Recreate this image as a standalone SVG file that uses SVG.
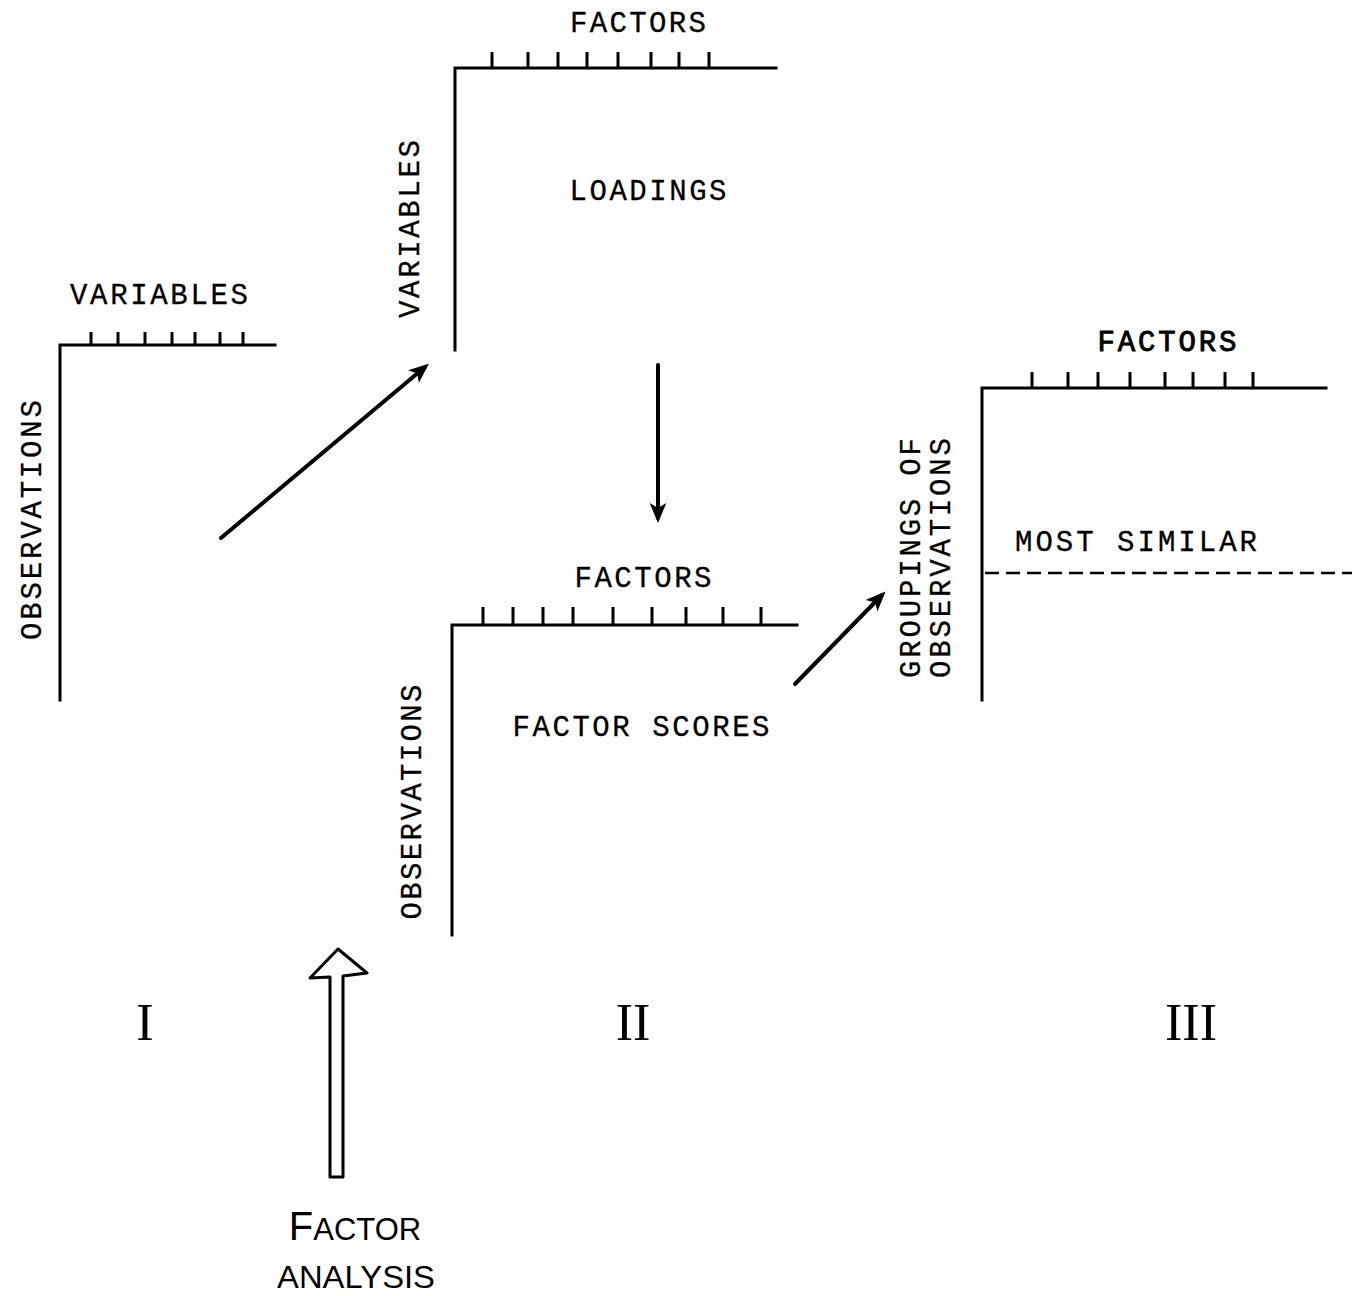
<svg xmlns="http://www.w3.org/2000/svg" width="1362" height="1296" viewBox="0 0 1362 1296">
<style>
.ax{stroke:#000;stroke-width:3;fill:none;stroke-linecap:square}
.tk{stroke:#000;stroke-width:3;fill:none}
.lb{font-family:"Liberation Mono","DejaVu Sans Mono",monospace;font-size:29px;fill:#000;text-anchor:middle;stroke:#000;stroke-width:0.3}
.rn{font-family:"Liberation Serif","DejaVu Serif",serif;font-size:52px;fill:#000;text-anchor:middle}
.fa{font-family:"Liberation Sans","DejaVu Sans",sans-serif;fill:#000;text-anchor:middle}
.ar{stroke:#000;stroke-width:4;fill:none;stroke-linecap:round}
</style>
<defs>
<marker id="ah" viewBox="0 0 12 12" refX="9" refY="6" markerWidth="5" markerHeight="5" orient="auto" markerUnits="strokeWidth">
<path d="M0,1 L12,6 L0,11 L3,6 Z" fill="#000"/>
</marker>
</defs>
<rect width="1362" height="1296" fill="#fff"/>

<g id="panel-I">
<path class="ax" d="M60,700 V345 H275"/>
<path class="tk" d="M91,332V345M118,332V345M145,332V345M172,332V345M195,332V345M220,332V345M243,332V345"/>
<text class="lb" x="159" y="304" textLength="178" lengthAdjust="spacing">VARIABLES</text>
<text class="lb" transform="translate(41,520) rotate(-90)" textLength="240" lengthAdjust="spacing">OBSERVATIONS</text>
<text class="rn" x="145" y="1040">I</text>
</g>

<g id="panel-II-loadings">
<path class="ax" d="M455,350 V68 H776"/>
<path class="tk" d="M492,52V68M528,52V68M558,52V68M587,52V68M618,52V68M651,52V68M679,52V68M709,52V68"/>
<text class="lb" x="638" y="32" textLength="136" lengthAdjust="spacing">FACTORS</text>
<text class="lb" x="648" y="200" textLength="157" lengthAdjust="spacing">LOADINGS</text>
<text class="lb" transform="translate(419,229) rotate(-90)" textLength="178" lengthAdjust="spacing">VARIABLES</text>
</g>

<g id="panel-II-scores">
<path class="ax" d="M452,935 V625 H797"/>
<path class="tk" d="M483,607V625M513,607V625M543,607V625M573,607V625M613,607V625M652,607V625M686,607V625M723,607V625M761,607V625"/>
<text class="lb" x="643" y="587" textLength="137" lengthAdjust="spacing">FACTORS</text>
<text class="lb" x="641" y="736" textLength="257" lengthAdjust="spacing">FACTOR SCORES</text>
<text class="lb" transform="translate(421,802) rotate(-90)" textLength="235" lengthAdjust="spacing">OBSERVATIONS</text>
<text class="rn" x="633" y="1040">II</text>
</g>

<g id="panel-III">
<path class="ax" d="M982,700 V388 H1326"/>
<path class="tk" d="M1032,372V388M1068,372V388M1098,372V388M1130,372V388M1165,372V388M1193,372V388M1225,372V388M1253,372V388"/>
<text class="lb" x="1167" y="351" textLength="139" lengthAdjust="spacing" style="stroke-width:0.9">FACTORS</text>
<text class="lb" x="1136" y="551" textLength="242" lengthAdjust="spacing">MOST SIMILAR</text>
<line x1="985" y1="573" x2="1352" y2="573" stroke="#000" stroke-width="2.5" stroke-dasharray="14 7"/>
<text class="lb" transform="translate(920,558) rotate(-90)" textLength="240" lengthAdjust="spacing">GROUPINGS OF</text>
<text class="lb" transform="translate(950,558) rotate(-90)" textLength="240" lengthAdjust="spacing">OBSERVATIONS</text>
<text class="rn" x="1191" y="1040">III</text>
</g>

<g id="factor-analysis">
<path d="M330,1177 V977 L310,978 L338,949 L367,973 L343,976 V1177 Z" fill="#fff" stroke="#000" stroke-width="3" stroke-linejoin="round"/>
<text class="fa" x="355" y="1240"><tspan font-size="40">F</tspan><tspan font-size="31">ACTOR</tspan></text>
<text class="fa" x="356" y="1288" font-size="31" textLength="158" lengthAdjust="spacingAndGlyphs">ANALYSIS</text>
</g>

<g id="connectors">
<line class="ar" x1="221" y1="538" x2="425" y2="367" marker-end="url(#ah)"/>
<line class="ar" x1="658" y1="365" x2="658" y2="518" marker-end="url(#ah)"/>
<line class="ar" x1="795" y1="684" x2="882" y2="595" marker-end="url(#ah)"/>
</g>
</svg>
